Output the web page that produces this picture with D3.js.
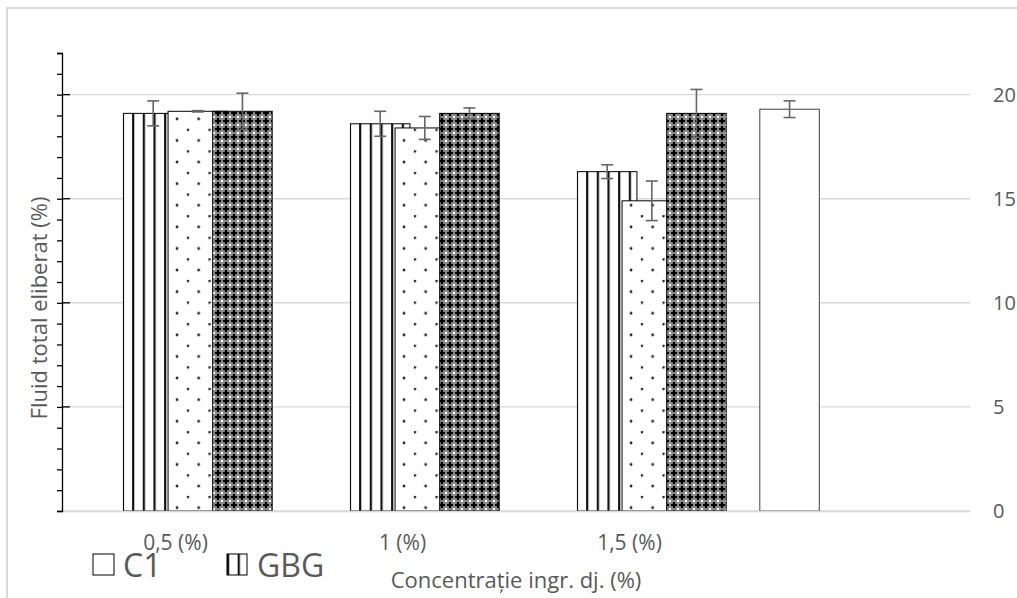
<!DOCTYPE html>
<html>
<head>
<meta charset="utf-8">
<script src="https://cdn.jsdelivr.net/npm/d3@7"></script>
<style>
body { margin: 0; background: #fff; }
text { font-family: "Open Sans", sans-serif; fill: #595959; }
</style>
</head>
<body>
<div id="chart"></div>
<script>
// values
var categories = ["0,5 (%)", "1 (%)", "1,5 (%)", ""];
var c1Values = [null, null, null, 19.3];
var c1Errors = [null, null, null, 0.4];
var gbgValues = [19.1, 18.6, 16.3, null];
var gbgErrors = [0.6, 0.6, 0.33, null];
var serie3Values = [19.2, 18.4, 14.9, null];
var serie3Errors = [0.03, 0.55, 0.95, null];
var serie4Values = [19.2, 19.1, 19.1, null];
var serie4Errors = [0.87, 0.26, 1.15, null];
var rightTicks = [0, 5, 10, 15, 20];
var legendItems = ["C1", "GBG"];

var series = [
    { name: "C1", values: c1Values, errors: c1Errors, kind: "plain" },
    { name: "GBG", values: gbgValues, errors: gbgErrors, kind: "stripes" },
    { name: "Serie 3", values: serie3Values, errors: serie3Errors, kind: "dots" },
    { name: "Serie 4", values: serie4Values, errors: serie4Errors, kind: "check" }
];

var svgWidth = 1017, svgHeight = 598;
var margin = { top: 53, right: 47, bottom: 87, left: 62 };
var width = svgWidth - margin.left - margin.right;
var height = svgHeight - margin.top - margin.bottom;

var svg = d3.select("#chart").append("svg")
    .attr("width", svgWidth)
    .attr("height", svgHeight);

var defs = svg.append("defs");

// chart area border
svg.append("rect")
    .attr("x", 7).attr("y", 8)
    .attr("width", 1030).attr("height", 620)
    .attr("fill", "none")
    .attr("stroke", "#d9d9d9")
    .attr("stroke-width", 2);

var g = svg.append("g")
    .attr("transform", "translate(" + margin.left + "," + margin.top + ")");

var x0 = d3.scaleBand()
    .domain(d3.range(categories.length))
    .range([0, width]);

var y = d3.scaleLinear()
    .domain([0, 22])
    .range([height, 0]);

var gapRatio = 0.565, overlap = 0.25;
var barW = x0.bandwidth() / (series.length - (series.length - 1) * overlap + gapRatio);
function barX(ci, si) {
    return x0(ci) + barW * gapRatio / 2 + si * barW * (1 - overlap);
}

// crosshatch pattern (dark)
var check = defs.append("pattern")
    .attr("id", "check")
    .attr("patternUnits", "userSpaceOnUse")
    .attr("width", 8).attr("height", 8);
check.append("rect").attr("width", 8).attr("height", 8).attr("fill", "#8a8a8a");
check.append("rect").attr("x", 2.5).attr("y", 2.5).attr("width", 3).attr("height", 3).attr("fill", "#000");
check.append("rect").attr("x", 3).attr("y", 1).attr("width", 2).attr("height", 6).attr("fill", "#000");
check.append("rect").attr("x", 1).attr("y", 3).attr("width", 6).attr("height", 2).attr("fill", "#000");
[[0, 0], [7, 0], [0, 7], [7, 7]].forEach(function(p) {
    check.append("rect").attr("x", p[0]).attr("y", p[1]).attr("width", 1).attr("height", 1).attr("fill", "#fff");
});

function stripesPattern(id, px) {
    var p = defs.append("pattern")
        .attr("id", id)
        .attr("patternUnits", "userSpaceOnUse")
        .attr("x", px).attr("y", 0)
        .attr("width", 10.67).attr("height", 10);
    p.append("rect").attr("width", 10.67).attr("height", 10).attr("fill", "#fff");
    p.append("rect").attr("x", 0).attr("width", 2.2).attr("height", 10).attr("fill", "#111");
}

function dotsPattern(id, px) {
    var p = defs.append("pattern")
        .attr("id", id)
        .attr("patternUnits", "userSpaceOnUse")
        .attr("x", px).attr("y", 75.7)
        .attr("width", 21.6).attr("height", 21.6);
    p.append("rect").attr("width", 21.6).attr("height", 21.6).attr("fill", "#fff");
    p.append("circle").attr("cx", 1).attr("cy", 1).attr("r", 1.4).attr("fill", "#222");
    p.append("circle").attr("cx", 11.8).attr("cy", 11.8).attr("r", 1.4).attr("fill", "#222");
}

// gridlines
g.append("g")
    .selectAll("line")
    .data(rightTicks)
    .enter().append("line")
    .attr("x1", 0).attr("x2", width)
    .attr("y1", function(d) { return y(d); })
    .attr("y2", function(d) { return y(d); })
    .attr("stroke", "#d9d9d9")
    .attr("stroke-width", 1.4);

// bars and error bars
series.forEach(function(s, si) {
    var pts = [];
    s.values.forEach(function(v, ci) {
        if (v !== null) pts.push({ ci: ci, value: v, err: s.errors[ci], x: barX(ci, si) });
    });

    var fill = function(d) {
        if (s.kind === "plain") return "#fff";
        if (s.kind === "check") return "url(#check)";
        var id = s.kind + "-" + si + "-" + d.ci;
        if (s.kind === "stripes") stripesPattern(id, margin.left + d.x);
        else dotsPattern(id, margin.left + d.x);
        return "url(#" + id + ")";
    };

    g.append("g")
        .selectAll("rect")
        .data(pts)
        .enter().append("rect")
        .attr("x", function(d) { return d.x; })
        .attr("y", function(d) { return y(d.value); })
        .attr("width", barW)
        .attr("height", function(d) { return y(0) - y(d.value); })
        .attr("fill", fill)
        .attr("stroke", s.kind === "plain" ? "#404040" : "#000")
        .attr("stroke-width", 1);

    var eb = g.append("g")
        .selectAll("g")
        .data(pts)
        .enter().append("g")
        .attr("stroke", "#666")
        .attr("stroke-width", 1.6);
    eb.append("line")
        .attr("x1", function(d) { return d.x + barW / 2; })
        .attr("x2", function(d) { return d.x + barW / 2; })
        .attr("y1", function(d) { return y(d.value + d.err); })
        .attr("y2", function(d) { return y(d.value - d.err); });
    eb.append("line")
        .attr("x1", function(d) { return d.x + barW / 2 - 6; })
        .attr("x2", function(d) { return d.x + barW / 2 + 6; })
        .attr("y1", function(d) { return y(d.value + d.err); })
        .attr("y2", function(d) { return y(d.value + d.err); });
    eb.append("line")
        .attr("x1", function(d) { return d.x + barW / 2 - 6; })
        .attr("x2", function(d) { return d.x + barW / 2 + 6; })
        .attr("y1", function(d) { return y(d.value - d.err); })
        .attr("y2", function(d) { return y(d.value - d.err); });
});

// category axis
var xAxis = g.append("g")
    .attr("transform", "translate(0," + height + ")")
    .call(d3.axisBottom(x0).tickSize(0).tickSizeOuter(0).tickPadding(24)
        .tickFormat(function(i) { return categories[i]; }));
xAxis.select(".domain").attr("stroke", "#d9d9d9").attr("stroke-width", 1.6);
xAxis.selectAll("text").style("font-size", "21px").attr("fill", "#595959");

// left axis (no labels, minor ticks every unit)
var leftAxis = g.append("g")
    .call(d3.axisLeft(y).tickValues(d3.range(0, 23)).tickSize(5).tickSizeOuter(5).tickFormat(""));
leftAxis.selectAll("line, path").attr("stroke", "#000").attr("stroke-width", 1.3);
g.append("g")
    .selectAll("line")
    .data(rightTicks.slice(1))
    .enter().append("line")
    .attr("x1", 0).attr("x2", 8)
    .attr("y1", function(d) { return y(d); })
    .attr("y2", function(d) { return y(d); })
    .attr("stroke", "#000")
    .attr("stroke-width", 1.3);

// right axis labels
var rightAxis = g.append("g")
    .attr("transform", "translate(" + width + ",0)")
    .call(d3.axisRight(y).tickValues(rightTicks).tickSize(0).tickPadding(23));
rightAxis.select(".domain").remove();
rightAxis.selectAll("text").style("font-size", "20px").attr("fill", "#595959");

// axis titles
svg.append("text")
    .attr("x", margin.left + width / 2)
    .attr("y", 588)
    .attr("text-anchor", "middle")
    .style("font-size", "22px")
    .text("Concentrație ingr. dj. (%)");

svg.append("text")
    .attr("transform", "translate(47,308) rotate(-90)")
    .attr("text-anchor", "middle")
    .style("font-size", "22px")
    .text("Fluid total eliberat (%)");

// legend
stripesPattern("legend-stripes", 227);
var legendX = [93, 227];
var legend = svg.append("g")
    .selectAll("g")
    .data(legendItems)
    .enter().append("g");
legend.append("rect")
    .attr("x", function(d, i) { return legendX[i]; })
    .attr("y", 554)
    .attr("width", function(d, i) { return i === 0 ? 21 : 20; })
    .attr("height", 21)
    .attr("fill", function(d, i) { return i === 0 ? "#fff" : "url(#legend-stripes)"; })
    .attr("stroke", "#000")
    .attr("stroke-width", 1);
legend.append("text")
    .attr("x", function(d, i) { return legendX[i] + 30; })
    .attr("y", 577)
    .style("font-size", "32px")
    .text(function(d) { return d; });
</script>
</body>
</html>
